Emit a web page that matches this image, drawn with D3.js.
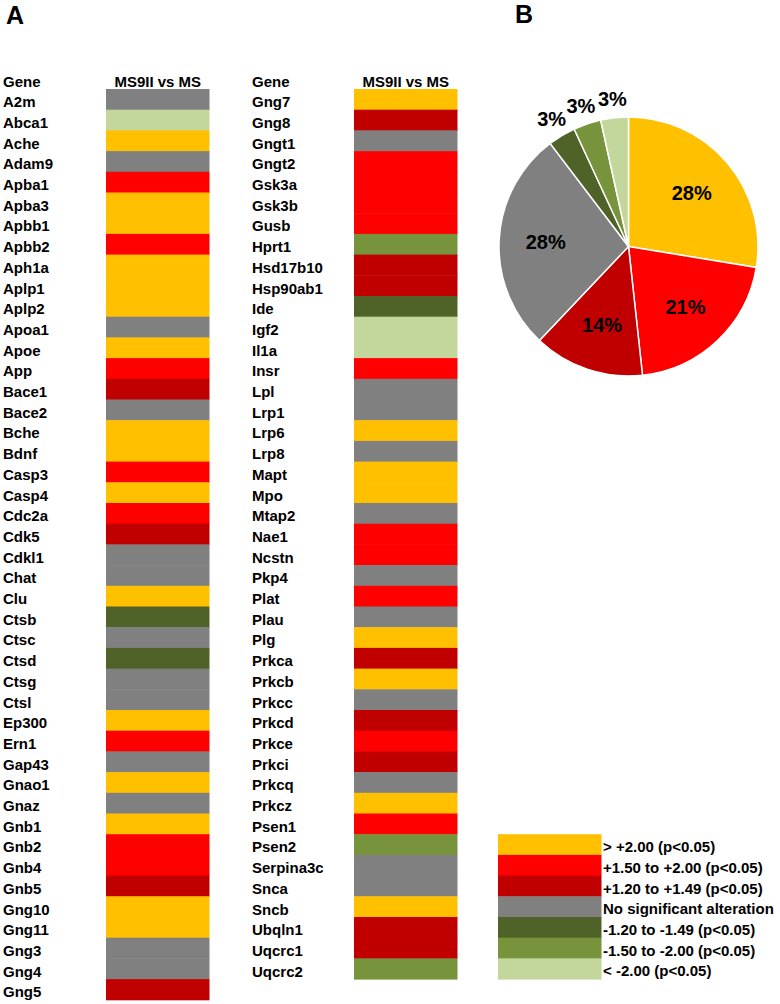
<!DOCTYPE html>
<html>
<head>
<meta charset="utf-8">
<script src="https://cdn.jsdelivr.net/npm/d3@7"></script>
<style>
  body { margin: 0; background: #fff; }
  text { font-family: "Liberation Sans", Arial, sans-serif; font-weight: bold; fill: #000; }
</style>
</head>
<body>
<script>
// Categories of fold change (legend order = pie order)
const categories = ['up2', 'up15', 'up12', 'ns', 'dn12', 'dn15', 'dn2'];
const categoryLabels = ['> +2.00 (p<0.05)', '+1.50 to +2.00 (p<0.05)', '+1.20 to +1.49 (p<0.05)',
  'No significant alteration', '-1.20 to -1.49 (p<0.05)', '-1.50 to -2.00 (p<0.05)', '< -2.00 (p<0.05)'];
const colors = ['#ffc000', '#ff0000', '#c00000', '#808080', '#4f6228', '#77933c', '#c3d69b'];

// Genes and their category, column 1
const genesLeft = ['A2m', 'Abca1', 'Ache', 'Adam9', 'Apba1', 'Apba3', 'Apbb1', 'Apbb2', 'Aph1a', 'Aplp1',
  'Aplp2', 'Apoa1', 'Apoe', 'App', 'Bace1', 'Bace2', 'Bche', 'Bdnf', 'Casp3', 'Casp4', 'Cdc2a', 'Cdk5',
  'Cdkl1', 'Chat', 'Clu', 'Ctsb', 'Ctsc', 'Ctsd', 'Ctsg', 'Ctsl', 'Ep300', 'Ern1', 'Gap43', 'Gnao1',
  'Gnaz', 'Gnb1', 'Gnb2', 'Gnb4', 'Gnb5', 'Gng10', 'Gng11', 'Gng3', 'Gng4', 'Gng5'];
const valuesLeft = ['ns', 'dn2', 'up2', 'ns', 'up15', 'up2', 'up2', 'up15', 'up2', 'up2',
  'up2', 'ns', 'up2', 'up15', 'up12', 'ns', 'up2', 'up2', 'up15', 'up2', 'up15', 'up12',
  'ns', 'ns', 'up2', 'dn12', 'ns', 'dn12', 'ns', 'ns', 'up2', 'up15', 'ns', 'up2',
  'ns', 'up2', 'up15', 'up15', 'up12', 'up2', 'up2', 'ns', 'ns', 'up12'];

// column 2
const genesRight = ['Gng7', 'Gng8', 'Gngt1', 'Gngt2', 'Gsk3a', 'Gsk3b', 'Gusb', 'Hprt1', 'Hsd17b10',
  'Hsp90ab1', 'Ide', 'Igf2', 'Il1a', 'Insr', 'Lpl', 'Lrp1', 'Lrp6', 'Lrp8', 'Mapt', 'Mpo', 'Mtap2',
  'Nae1', 'Ncstn', 'Pkp4', 'Plat', 'Plau', 'Plg', 'Prkca', 'Prkcb', 'Prkcc', 'Prkcd', 'Prkce', 'Prkci',
  'Prkcq', 'Prkcz', 'Psen1', 'Psen2', 'Serpina3c', 'Snca', 'Sncb', 'Ubqln1', 'Uqcrc1', 'Uqcrc2'];
const valuesRight = ['up2', 'up12', 'ns', 'up15', 'up15', 'up15', 'up15', 'dn15', 'up12',
  'up12', 'dn12', 'dn2', 'dn2', 'up15', 'ns', 'ns', 'up2', 'ns', 'up2', 'up2', 'ns',
  'up15', 'up15', 'ns', 'up15', 'ns', 'up2', 'up12', 'up2', 'ns', 'up12', 'up15', 'up12',
  'ns', 'up2', 'up15', 'dn15', 'ns', 'ns', 'up2', 'up12', 'up12', 'dn15'];

const width = 780, height = 1004;
const rowH = 20.7;
const gridTop = 89;

const svg = d3.select('body').append('svg')
  .attr('width', width)
  .attr('height', height);

const color = d3.scaleOrdinal().domain(categories).range(colors);

// Panel letters
svg.append('text').attr('x', 6).attr('y', 24).style('font-size', '25px').text('A');
svg.append('text').attr('x', 515).attr('y', 23).style('font-size', '25px').text('B');

// Heat columns
function drawColumn(genes, values, labelX, cellX) {
  const y = d3.scaleBand()
    .domain(genes)
    .range([gridTop, gridTop + genes.length * rowH]);
  const cellW = 103.5;

  const g = svg.append('g');

  g.append('text')
    .attr('x', labelX)
    .attr('y', gridTop - 2.5)
    .style('font-size', '15px')
    .text('Gene');

  g.append('text')
    .attr('x', cellX + cellW / 2)
    .attr('y', gridTop - 2.5)
    .attr('text-anchor', 'middle')
    .style('font-size', '15px')
    .text('MS9II vs MS');

  g.selectAll('rect')
    .data(genes)
    .enter()
    .append('rect')
    .attr('x', cellX)
    .attr('y', d => y(d))
    .attr('width', cellW)
    .attr('height', y.bandwidth() + 0.5)
    .attr('fill', (d, i) => color(values[i]));

  g.selectAll('.gene')
    .data(genes)
    .enter()
    .append('text')
    .attr('class', 'gene')
    .attr('x', labelX)
    .attr('y', d => y(d) + 18.2)
    .style('font-size', '15px')
    .text(d => d);
}

drawColumn(genesLeft, valuesLeft, 3, 106);
drawColumn(genesRight, valuesRight, 252, 354);

// Pie of category shares
const allValues = valuesLeft.concat(valuesRight);
const counts = categories.map(c => ({ cat: c, n: allValues.filter(v => v === c).length }));
const total = allValues.length;

const radius = 129.5;
const pie = d3.pie().sort(null).value(d => d.n);
const arc = d3.arc().innerRadius(0).outerRadius(radius);
const labelArc = d3.arc().innerRadius(radius * 0.64).outerRadius(radius * 0.64);
const outerArc = d3.arc().innerRadius(149).outerRadius(149);

const pieG = svg.append('g')
  .attr('transform', 'translate(628.5,246.5)');

const arcs = pie(counts);

pieG.selectAll('path')
  .data(arcs)
  .enter()
  .append('path')
  .attr('d', arc)
  .attr('fill', d => color(d.data.cat))
  .attr('stroke', '#fff')
  .attr('stroke-width', 1.5);

pieG.selectAll('.pct')
  .data(arcs)
  .enter()
  .append('text')
  .attr('class', 'pct')
  .attr('transform', d => {
    const small = d.data.n / total < 0.05;
    const [cx, cy] = (small ? outerArc : labelArc).centroid(d);
    return `translate(${cx},${cy})`;
  })
  .attr('text-anchor', 'middle')
  .attr('dy', '0.36em')
  .style('font-size', '20px')
  .text(d => Math.round(d.data.n / total * 100) + '%');

// Legend aligned to the heat rows
const legendY = d3.scaleBand()
  .domain(categories)
  .range([gridTop + 36 * rowH, gridTop + 43 * rowH]);

const legend = svg.append('g');

legend.selectAll('rect')
  .data(categories)
  .enter()
  .append('rect')
  .attr('x', 498)
  .attr('y', d => legendY(d))
  .attr('width', 103.5)
  .attr('height', legendY.bandwidth() + 0.5)
  .attr('fill', d => color(d));

legend.selectAll('text')
  .data(categories)
  .enter()
  .append('text')
  .attr('x', 603)
  .attr('y', d => legendY(d) + 18)
  .style('font-size', '15px')
  .text((d, i) => categoryLabels[i]);
</script>
</body>
</html>
